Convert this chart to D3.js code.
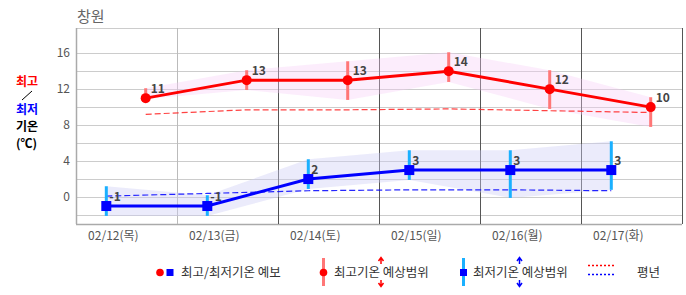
<!DOCTYPE html>
<html>
<head>
<meta charset="utf-8">
<script src="https://cdn.jsdelivr.net/npm/d3@7"></script>
<style>
  body { margin: 0; background: #fff; }
  svg { display: block; font-family: "Noto Sans CJK KR", "Noto Sans", sans-serif; }
</style>
</head>
<body>
<svg id="chart" width="686" height="295"></svg>
<script>
// forecast days
var days = ['02/12(목)', '02/13(금)', '02/14(토)', '02/15(일)', '02/16(월)', '02/17(화)'];

// forecast max / min
var maxTemps = [11, 13, 13, 14, 12, 10];
var minTemps = [-1, -1, 2, 3, 3, 3];

// expected ranges
var maxLow = [10.9, 11.9, 10.8, 12.8, 9.8, 7.8];
var maxHigh = [12.1, 14.1, 15.1, 16.1, 14.1, 11.1];
var minLow = [-2.1, -2.1, 0.9, 1.9, -0.1, 0.8];
var minHigh = [1.2, 0.2, 4.2, 5.2, 5.2, 6.2];

// normals (평년)
var normMax = [9.2, 9.7, 9.7, 9.8, 9.6, 9.4];
var normMin = [0.1, 0.4, 0.7, 0.8, 0.8, 0.7];

var yTicks = [0, 4, 8, 12, 16];
var yGrid = [-2, 0, 2, 4, 6, 8, 10, 12, 14, 16];

var margin = { top: 28, right: 4, bottom: 71, left: 76 };
var width = 686 - margin.left - margin.right;
var height = 295 - margin.top - margin.bottom;

var svg = d3.select('#chart');

var x = d3.scaleLinear().domain([0, days.length]).range([margin.left, margin.left + width]);
var y = d3.scaleLinear().domain([-3, 18.8]).range([margin.top + height, margin.top]);

// position inside a day: min in the morning, max in the afternoon
var minPos = function (i) { return x(i + 0.3); };
var maxPos = function (i) { return x(i + 0.69); };

// title
svg.append('text')
    .attr('x', 77).attr('y', 22)
    .attr('font-size', 15).attr('fill', '#666')
    .text('창원');

// left axis title
var lt = svg.append('g').attr('font-size', 12).attr('font-weight', 'bold');
lt.append('text').attr('x', 16).attr('y', 86).attr('fill', '#f00').text('최고');
lt.append('line').attr('x1', 32).attr('y1', 91).attr('x2', 22).attr('y2', 100)
    .attr('stroke', '#000').attr('stroke-width', 1);
lt.append('text').attr('x', 16).attr('y', 114).attr('fill', '#00f').text('최저');
lt.append('text').attr('x', 16).attr('y', 131).attr('fill', '#000').text('기온');
lt.append('text').attr('x', 16).attr('y', 148).attr('fill', '#000').text('(℃)');

// horizontal grid
svg.append('g').selectAll('line')
    .data(yGrid)
    .enter().append('line')
    .attr('x1', x(0)).attr('x2', x(days.length))
    .attr('y1', function (d) { return Math.round(y(d)) + 0.5; })
    .attr('y2', function (d) { return Math.round(y(d)) + 0.5; })
    .attr('stroke', '#ccc');

// y axis labels
svg.append('g').selectAll('text')
    .data(yTicks)
    .enter().append('text')
    .attr('x', 70)
    .attr('y', function (d) { return y(d) + 4; })
    .attr('text-anchor', 'end')
    .attr('font-size', 12).attr('fill', '#555')
    .text(function (d) { return d; });

// frame
svg.append('line').attr('x1', x(0)).attr('x2', x(days.length))
    .attr('y1', margin.top + 0.5).attr('y2', margin.top + 0.5).attr('stroke', '#ccc');
svg.append('line').attr('x1', x(0)).attr('x2', x(days.length))
    .attr('y1', margin.top + height + 0.5).attr('y2', margin.top + height + 0.5)
    .attr('stroke', '#aaa').attr('stroke-width', 1.5);
svg.append('line').attr('x1', x(0) + 0.5).attr('x2', x(0) + 0.5)
    .attr('y1', margin.top).attr('y2', margin.top + height).attr('stroke', '#aaa').attr('stroke-width', 1.5);

// day separators
svg.append('g').selectAll('line')
    .data(d3.range(1, days.length + 1))
    .enter().append('line')
    .attr('x1', function (d) { return Math.round(x(d)) + 0.5; })
    .attr('x2', function (d) { return Math.round(x(d)) + 0.5; })
    .attr('y1', margin.top).attr('y2', margin.top + height)
    .attr('stroke', function (d) { return d === 1 ? '#bbb' : '#555'; });

// x labels
svg.append('g').selectAll('text')
    .data(days)
    .enter().append('text')
    .attr('x', function (d, i) { return x(i + 0.37); })
    .attr('y', 240)
    .attr('text-anchor', 'middle')
    .attr('font-size', 12).attr('fill', '#555')
    .text(function (d) { return d; });

var idx = d3.range(days.length);

// range bands
var maxBand = d3.area()
    .x(function (i) { return maxPos(i); })
    .y0(function (i) { return y(maxLow[i]); })
    .y1(function (i) { return y(maxHigh[i]); });
var minBand = d3.area()
    .x(function (i) { return minPos(i); })
    .y0(function (i) { return y(minLow[i]); })
    .y1(function (i) { return y(minHigh[i]); });

svg.append('path').datum(idx).attr('d', maxBand)
    .attr('fill', '#f5ccf5').attr('fill-opacity', 0.35);
svg.append('path').datum(idx).attr('d', minBand)
    .attr('fill', '#ccccf5').attr('fill-opacity', 0.4);

// normals
svg.append('path').datum(idx)
    .attr('d', d3.line().x(function (i) { return maxPos(i); }).y(function (i) { return y(normMax[i]); }))
    .attr('fill', 'none').attr('stroke', '#f22').attr('stroke-opacity', 0.85)
    .attr('stroke-width', 1.2).attr('stroke-dasharray', '6,3');
svg.append('path').datum(idx)
    .attr('d', d3.line().x(function (i) { return minPos(i); }).y(function (i) { return y(normMin[i]); }))
    .attr('fill', 'none').attr('stroke', '#00f').attr('stroke-opacity', 0.85)
    .attr('stroke-width', 1.2).attr('stroke-dasharray', '6,3');

// range bars
svg.append('g').selectAll('line')
    .data(idx)
    .enter().append('line')
    .attr('x1', function (i) { return maxPos(i); })
    .attr('x2', function (i) { return maxPos(i); })
    .attr('y1', function (i) { return y(maxHigh[i]); })
    .attr('y2', function (i) { return y(maxLow[i]); })
    .attr('stroke', '#f77').attr('stroke-width', 3);
svg.append('g').selectAll('line')
    .data(idx)
    .enter().append('line')
    .attr('x1', function (i) { return minPos(i); })
    .attr('x2', function (i) { return minPos(i); })
    .attr('y1', function (i) { return y(minHigh[i]); })
    .attr('y2', function (i) { return y(minLow[i]); })
    .attr('stroke', '#1ab0ff').attr('stroke-width', 3);

// forecast lines
svg.append('path').datum(idx)
    .attr('d', d3.line().x(function (i) { return maxPos(i); }).y(function (i) { return y(maxTemps[i]); }))
    .attr('fill', 'none').attr('stroke', '#f00').attr('stroke-width', 3);
svg.append('path').datum(idx)
    .attr('d', d3.line().x(function (i) { return minPos(i); }).y(function (i) { return y(minTemps[i]); }))
    .attr('fill', 'none').attr('stroke', '#00f').attr('stroke-width', 3);

// markers
svg.append('g').selectAll('circle')
    .data(idx)
    .enter().append('circle')
    .attr('cx', function (i) { return maxPos(i); })
    .attr('cy', function (i) { return y(maxTemps[i]); })
    .attr('r', 5).attr('fill', '#f00');
svg.append('g').selectAll('rect')
    .data(idx)
    .enter().append('rect')
    .attr('x', function (i) { return minPos(i) - 5; })
    .attr('y', function (i) { return y(minTemps[i]) - 5; })
    .attr('width', 10).attr('height', 10).attr('fill', '#00f');

// value labels
svg.append('g').selectAll('text')
    .data(idx)
    .enter().append('text')
    .attr('x', function (i) { return maxPos(i) + 5; })
    .attr('y', function (i) { return y(maxTemps[i]) - 5; })
    .attr('font-size', 12).attr('font-weight', 'bold').attr('fill', '#444')
    .text(function (i) { return maxTemps[i]; });
svg.append('g').selectAll('text')
    .data(idx)
    .enter().append('text')
    .attr('x', function (i) { return minPos(i) + 3; })
    .attr('y', function (i) { return y(minTemps[i]) - 5; })
    .attr('font-size', 12).attr('font-weight', 'bold').attr('fill', '#444')
    .text(function (i) { return minTemps[i]; });

// legend
var lg = svg.append('g').attr('font-size', 12.5).attr('fill', '#333');
var ly = 272.5;

lg.append('circle').attr('cx', 160).attr('cy', ly).attr('r', 3.8).attr('fill', '#f00');
lg.append('rect').attr('x', 166.5).attr('y', ly - 3.5).attr('width', 7).attr('height', 7).attr('fill', '#00f');
lg.append('text').attr('x', 181).attr('y', ly + 4.5).text('최고/최저기온 예보');

function arrows(g, cx, color) {
    g.append('path')
        .attr('d', 'M' + cx + ',258 L' + cx + ',264 M' + (cx - 2.5) + ',261 L' + cx + ',257.5 L' + (cx + 2.5) + ',261')
        .attr('stroke', color).attr('stroke-width', 1.5).attr('fill', 'none');
    g.append('path')
        .attr('d', 'M' + cx + ',280 L' + cx + ',286 M' + (cx - 2.5) + ',283 L' + cx + ',286.5 L' + (cx + 2.5) + ',283')
        .attr('stroke', color).attr('stroke-width', 1.5).attr('fill', 'none');
}

lg.append('line').attr('x1', 323.5).attr('x2', 323.5).attr('y1', 258).attr('y2', 286)
    .attr('stroke', '#f77').attr('stroke-width', 3);
lg.append('circle').attr('cx', 323.5).attr('cy', ly).attr('r', 3.8).attr('fill', '#f00');
lg.append('text').attr('x', 334).attr('y', ly + 4.5).text('최고기온 예상범위');
arrows(lg, 381, '#f00');

lg.append('line').attr('x1', 463.5).attr('x2', 463.5).attr('y1', 258).attr('y2', 286)
    .attr('stroke', '#1ab0ff').attr('stroke-width', 3);
lg.append('rect').attr('x', 460).attr('y', ly - 3.5).attr('width', 7).attr('height', 7).attr('fill', '#00f');
lg.append('text').attr('x', 473).attr('y', ly + 4.5).text('최저기온 예상범위');
arrows(lg, 519.5, '#00f');

lg.append('line').attr('x1', 588).attr('x2', 615).attr('y1', 265.5).attr('y2', 265.5)
    .attr('stroke', '#f00').attr('stroke-width', 1.5).attr('stroke-dasharray', '2,2');
lg.append('line').attr('x1', 588).attr('x2', 615).attr('y1', 274.5).attr('y2', 274.5)
    .attr('stroke', '#00f').attr('stroke-width', 1.5).attr('stroke-dasharray', '2,2');
lg.append('text').attr('x', 637).attr('y', ly + 4.5).text('평년');
</script>
</body>
</html>
